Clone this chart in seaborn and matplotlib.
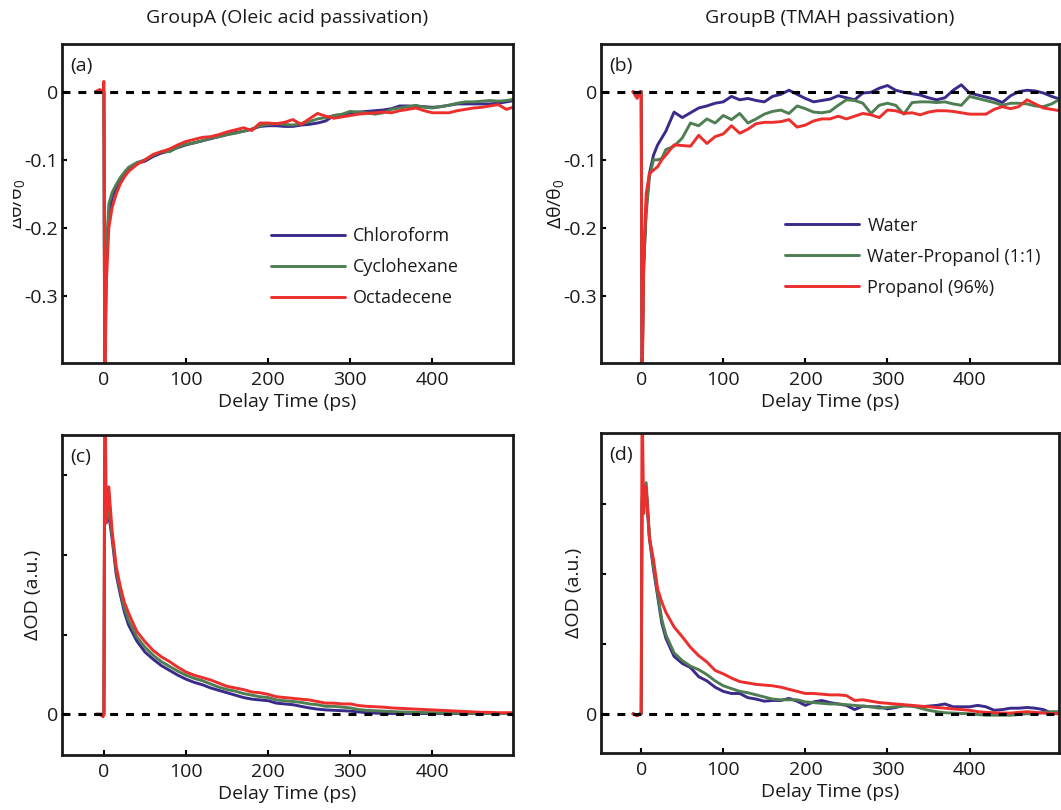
import numpy as np
import pandas as pd
import matplotlib
matplotlib.use("Agg")
import matplotlib.pyplot as plt
from matplotlib.patches import Rectangle
import seaborn as sns

# ---------------- data ----------------
TIME = [-10, -5, -1, 0, 1, 3, 6, 10, 15, 20, 25,
        30, 40, 50, 60, 70, 80, 90, 100, 110, 120,
        130, 140, 150, 160, 170, 180, 190, 200, 210, 220,
        230, 240, 250, 260, 270, 280, 290, 300, 310, 320,
        330, 340, 350, 360, 370, 380, 390, 400, 410, 420,
        430, 440, 450, 460, 470, 480, 490, 500, 510]

GROUP_A = ["Chloroform", "Cyclohexane", "Octadecene"]
GROUP_B = ["Water", "Water-Propanol (1:1)", "Propanol (96%)"]

A_CHLOROFORM = [0, 0.002, 0, 0, -0.42, -0.25, -0.18, -0.155, -0.14, -0.13, -0.12,
                -0.113, -0.105, -0.102, -0.095, -0.09, -0.087, -0.082, -0.078, -0.075, -0.072,
                -0.069, -0.066, -0.063, -0.06, -0.058, -0.055, -0.051, -0.05, -0.05, -0.051,
                -0.051, -0.049, -0.048, -0.046, -0.043, -0.035, -0.034, -0.031, -0.03, -0.029,
                -0.028, -0.027, -0.025, -0.021, -0.021, -0.022, -0.022, -0.023, -0.022, -0.02,
                -0.018, -0.018, -0.018, -0.018, -0.018, -0.017, -0.015, -0.013, -0.013]
A_CYCLOHEXANE = [0, 0.001, 0, 0, -0.4, -0.23, -0.165, -0.148, -0.136, -0.126, -0.118,
                 -0.111, -0.104, -0.1, -0.093, -0.088, -0.088, -0.081, -0.077, -0.075, -0.072,
                 -0.068, -0.066, -0.063, -0.061, -0.058, -0.055, -0.05, -0.048, -0.047, -0.048,
                 -0.049, -0.047, -0.044, -0.04, -0.038, -0.035, -0.033, -0.029, -0.03, -0.031,
                 -0.033, -0.031, -0.026, -0.024, -0.022, -0.02, -0.023, -0.024, -0.022, -0.02,
                 -0.017, -0.015, -0.015, -0.014, -0.013, -0.014, -0.013, -0.011, -0.011]
A_OCTADECENE = [0, 0.003, 0, 0.015, -0.45, -0.28, -0.2, -0.17, -0.15, -0.135, -0.125,
                -0.117, -0.107, -0.1, -0.092, -0.088, -0.084, -0.078, -0.073, -0.07, -0.067,
                -0.066, -0.063, -0.059, -0.056, -0.053, -0.057, -0.046, -0.046, -0.047, -0.045,
                -0.041, -0.048, -0.04, -0.032, -0.036, -0.039, -0.037, -0.035, -0.033, -0.032,
                -0.031, -0.03, -0.031, -0.028, -0.026, -0.024, -0.028, -0.031, -0.031, -0.031,
                -0.028, -0.026, -0.024, -0.023, -0.021, -0.019, -0.026, -0.022, -0.022]

B_WATER = [0, -0.005, 0, 0, -0.42, -0.26, -0.17, -0.12, -0.093, -0.078, -0.068,
           -0.058, -0.03, -0.038, -0.031, -0.024, -0.021, -0.017, -0.015, -0.007, -0.012,
           -0.01, -0.013, -0.015, -0.007, -0.004, 0.002, -0.004, -0.01, -0.015, -0.013,
           -0.011, -0.006, -0.009, -0.012, -0.002, -0.001, 0.005, 0.009, 0.002, -0.001,
           -0.003, -0.005, -0.009, -0.012, -0.009, 0.002, 0.01, -0.002, -0.005, -0.008,
           -0.011, -0.016, -0.006, 0.0, 0.002, 0.001, -0.002, -0.007, -0.011]
B_WATER_PROPANOL = [0, -0.005, 0, 0, -0.42, -0.25, -0.18, -0.125, -0.1, -0.1, -0.098,
                    -0.085, -0.08, -0.068, -0.046, -0.05, -0.04, -0.046, -0.035, -0.041, -0.032,
                    -0.046, -0.04, -0.033, -0.029, -0.027, -0.032, -0.021, -0.025, -0.03, -0.031,
                    -0.029, -0.02, -0.012, -0.013, -0.017, -0.032, -0.02, -0.017, -0.02, -0.033,
                    -0.016, -0.015, -0.015, -0.016, -0.015, -0.018, -0.02, -0.007, -0.01, -0.013,
                    -0.016, -0.02, -0.017, -0.017, -0.018, -0.021, -0.022, -0.018, -0.011]
B_PROPANOL = [0, -0.01, 0, 0, -0.45, -0.25, -0.15, -0.12, -0.115, -0.11, -0.1,
              -0.093, -0.078, -0.079, -0.08, -0.064, -0.076, -0.066, -0.062, -0.05, -0.061,
              -0.055, -0.047, -0.045, -0.045, -0.044, -0.041, -0.052, -0.049, -0.043, -0.04,
              -0.04, -0.036, -0.04, -0.036, -0.032, -0.034, -0.038, -0.027, -0.028, -0.032,
              -0.031, -0.034, -0.03, -0.028, -0.028, -0.029, -0.031, -0.033, -0.033, -0.033,
              -0.026, -0.022, -0.025, -0.022, -0.012, -0.018, -0.024, -0.026, -0.028]

C_CHLOROFORM = [0, 0, 0, 0, 3.0, 2.4, 2.5, 2.2, 1.75, 1.5, 1.28,
                1.12, 0.92, 0.78, 0.69, 0.61, 0.55, 0.49, 0.44, 0.4, 0.37,
                0.33, 0.3, 0.27, 0.24, 0.21, 0.19, 0.18, 0.17, 0.14, 0.13,
                0.12, 0.1, 0.08, 0.065, 0.055, 0.05, 0.045, 0.04, 0.03, 0.02,
                0.015, 0.012, 0.01, 0.01, 0.01, 0.01, 0.01, 0.01, 0.01, 0.01,
                0.01, 0.01, 0.01, 0.01, 0.01, 0.01, 0.01, 0.01, 0.01]
C_CYCLOHEXANE = [0, 0, 0, 0, 3.2, 2.4, 2.6, 2.25, 1.8, 1.55, 1.33,
                 1.18, 0.97, 0.84, 0.74, 0.66, 0.6, 0.54, 0.49, 0.45, 0.42,
                 0.38, 0.34, 0.31, 0.29, 0.26, 0.24, 0.22, 0.21, 0.18, 0.17,
                 0.16, 0.15, 0.13, 0.12, 0.1, 0.1, 0.09, 0.08, 0.06, 0.05,
                 0.045, 0.04, 0.035, 0.03, 0.028, 0.025, 0.022, 0.02, 0.018, 0.016,
                 0.015, 0.014, 0.012, 0.012, 0.011, 0.01, 0.01, 0.01, 0.01]
C_OCTADECENE = [0, 0, -0.03, 0, 4.5, 2.4, 2.85, 2.3, 1.85, 1.6, 1.4,
                1.27, 1.04, 0.91, 0.8, 0.72, 0.66, 0.59, 0.53, 0.49, 0.46,
                0.43, 0.39, 0.35, 0.33, 0.31, 0.28, 0.27, 0.25, 0.22, 0.21,
                0.2, 0.19, 0.18, 0.16, 0.14, 0.14, 0.13, 0.13, 0.11, 0.1,
                0.095, 0.09, 0.08, 0.075, 0.07, 0.065, 0.06, 0.055, 0.05, 0.045,
                0.04, 0.035, 0.03, 0.025, 0.025, 0.02, 0.02, 0.02, 0.02]

D_WATER = [0, -0.02, 0, 0, 3.0, 3.1, 3.2, 2.5, 2.06, 1.68, 1.3,
           1.08, 0.82, 0.72, 0.66, 0.53, 0.47, 0.38, 0.32, 0.29, 0.29,
           0.23, 0.21, 0.18, 0.19, 0.19, 0.22, 0.18, 0.12, 0.17, 0.19,
           0.16, 0.14, 0.12, 0.06, 0.11, 0.1, 0.1, 0.07, 0.09, 0.12,
           0.11, 0.1, 0.11, 0.12, 0.14, 0.1, 0.1, 0.1, 0.12, 0.1,
           0.05, 0.06, 0.08, 0.08, 0.09, 0.08, 0.06, 0.01, 0.0]
D_WATER_PROPANOL = [0, -0.02, 0, 0, 3.1, 3.2, 3.3, 2.55, 2.1, 1.72, 1.35,
                    1.13, 0.87, 0.76, 0.68, 0.63, 0.56, 0.47, 0.4, 0.36, 0.32,
                    0.3, 0.27, 0.24, 0.21, 0.2, 0.2, 0.2, 0.17, 0.16, 0.15,
                    0.14, 0.14, 0.13, 0.12, 0.11, 0.1, 0.08, 0.09, 0.1, 0.11,
                    0.11, 0.08, 0.05, 0.03, 0.015, 0.01, 0.005, 0.0, -0.01, -0.02,
                    -0.02, -0.02, -0.02, -0.01, 0.0, 0.0, 0.02, 0.03, 0.03]
D_PROPANOL = [0, -0.03, 0, 0, 4.6, 2.86, 3.24, 2.5, 2.2, 1.78, 1.6,
              1.45, 1.24, 1.1, 0.95, 0.83, 0.74, 0.62, 0.57, 0.51, 0.46,
              0.44, 0.42, 0.41, 0.4, 0.38, 0.35, 0.32, 0.29, 0.29, 0.28,
              0.27, 0.27, 0.26, 0.19, 0.2, 0.18, 0.16, 0.15, 0.14, 0.13,
              0.12, 0.11, 0.1, 0.09, 0.08, 0.07, 0.06, 0.05, 0.03, 0.02,
              0.015, 0.01, 0.01, 0.02, 0.03, 0.02, 0.01, 0.005, 0.0]

THETA_TICKS = [-0.3, -0.2, -0.1, 0]
THETA_TICKLABELS = ["-0.3", "-0.2", "-0.1", "0"]
OD_TICKS = [0, 1, 2, 3]
OD_TICKLABELS = ["0", "", "", ""]
X_TICKS = [0, 100, 200, 300, 400]

COLORS = ["#3a2a8a", "#4e7e52", "#ec2e2c"]

# ---------------- style ----------------
sns.set_theme(style="white")
plt.rcParams["font.family"] = ["Open Sans", "DejaVu Sans"]
plt.rcParams["mathtext.fontset"] = "custom"
plt.rcParams["mathtext.rm"] = "Open Sans"
plt.rcParams["mathtext.it"] = "Open Sans:italic"
plt.rcParams["mathtext.default"] = "regular"
plt.rcParams["axes.unicode_minus"] = False

W, H = 1061, 810
fig = plt.figure(figsize=(W / 100, H / 100), dpi=100)
fig.patch.set_facecolor("white")


def add_axes_px(l, t, r, b):
    return fig.add_axes([l / W, 1 - b / H, (r - l) / W, (b - t) / H])


def frame(series, names):
    return pd.DataFrame({
        "Delay": np.concatenate([np.asarray(TIME, float)] * len(names)),
        "Signal": np.concatenate([np.asarray(s, float) for s in series]),
        "Sample": np.repeat(names, len(TIME)),
    })


def draw(ax, df, names, xlim, ylim, yticks, yticklabels, ylabel, ylabel_x, tag, legend_anchor=None):
    sns.lineplot(data=df, x="Delay", y="Signal", hue="Sample", hue_order=names,
                 palette=COLORS, estimator=None, sort=False, linewidth=2.1,
                 ax=ax, legend=legend_anchor is not None)
    ax.axhline(0, color="black", linewidth=2.2, linestyle=(0, (2.6, 2.6)), zorder=4)
    ax.set_xlim(*xlim)
    ax.set_ylim(*ylim)
    ax.set_xticks(X_TICKS)
    ax.set_xticklabels([str(v) for v in X_TICKS])
    ax.set_yticks(yticks)
    ax.set_yticklabels(yticklabels)
    ax.tick_params(axis="both", direction="in", length=3.8, width=1.5, color="black",
                   labelsize=14, labelcolor="#1a1a1a", left=True, bottom=True,
                   top=False, right=False)
    ax.tick_params(axis="x", pad=6)
    ax.tick_params(axis="y", pad=3)
    for sp in ax.spines.values():
        sp.set_visible(True)
        sp.set_color("#1a1a1a")
        sp.set_linewidth(2.0)
    ax.set_xlabel("Delay Time (ps)", fontsize=14, color="#1a1a1a")
    ax.xaxis.set_label_coords(0.5, -0.094)
    ax.set_ylabel(ylabel, fontsize=14, color="#1a1a1a")
    ax.yaxis.set_label_coords(ylabel_x, 0.5)
    ax.text(0.018, 0.93, tag, transform=ax.transAxes, fontsize=14, color="#1a1a1a",
            ha="left", va="center")
    ax.grid(False)
    if legend_anchor is not None:
        handles, labels = ax.get_legend_handles_labels()
        ax.legend(handles, labels, loc="upper left", bbox_to_anchor=legend_anchor,
                  frameon=False, fontsize=13, handlelength=4.1, handletextpad=0.45,
                  labelspacing=0.72, borderpad=0, borderaxespad=0,
                  labelcolor="#1a1a1a")


THETA_LIM = (-0.3977, 0.0698)
ax_a = add_axes_px(62, 44, 513, 363)
ax_b = add_axes_px(601, 44, 1059, 363)
ax_c = add_axes_px(62, 435, 513, 755)
ax_d = add_axes_px(601, 433, 1059, 753)

draw(ax_a, frame([A_CHLOROFORM, A_CYCLOHEXANE, A_OCTADECENE], GROUP_A), GROUP_A,
     (-51, 498), THETA_LIM, THETA_TICKS, THETA_TICKLABELS,
     "Δθ/θ$_0$", -0.078, "(a)", legend_anchor=(0.463, 0.426))
draw(ax_b, frame([B_WATER, B_WATER_PROPANOL, B_PROPANOL], GROUP_B), GROUP_B,
     (-49, 509), THETA_LIM, THETA_TICKS, THETA_TICKLABELS,
     "Δθ/θ$_0$", -0.076, "(b)", legend_anchor=(0.402, 0.459))
draw(ax_c, frame([C_CHLOROFORM, C_CYCLOHEXANE, C_OCTADECENE], GROUP_A), GROUP_A,
     (-51, 498), (-0.51, 3.5), OD_TICKS, OD_TICKLABELS,
     "ΔOD (a.u.)", -0.044, "(c)")
draw(ax_d, frame([D_WATER, D_WATER_PROPANOL, D_PROPANOL], GROUP_B), GROUP_B,
     (-49, 509), (-0.56, 4.01), OD_TICKS, OD_TICKLABELS,
     "ΔOD (a.u.)", -0.039, "(d)")

fig.text(287.5 / W, 1 - 18 / H, "GroupA (Oleic acid passivation)", fontsize=14,
         ha="center", va="center", color="#1a1a1a")
fig.text(830 / W, 1 - 18 / H, "GroupB (TMAH passivation)", fontsize=14,
         ha="center", va="center", color="#1a1a1a")

# the reference crops away the left part of panel (a)'s y label
fig.patches.append(Rectangle((0, 1 - 270 / H), 12.5 / W, 130 / H, transform=fig.transFigure,
                             facecolor="white", edgecolor="none", zorder=10))

fig.savefig("out.png", dpi=100, facecolor="white")
